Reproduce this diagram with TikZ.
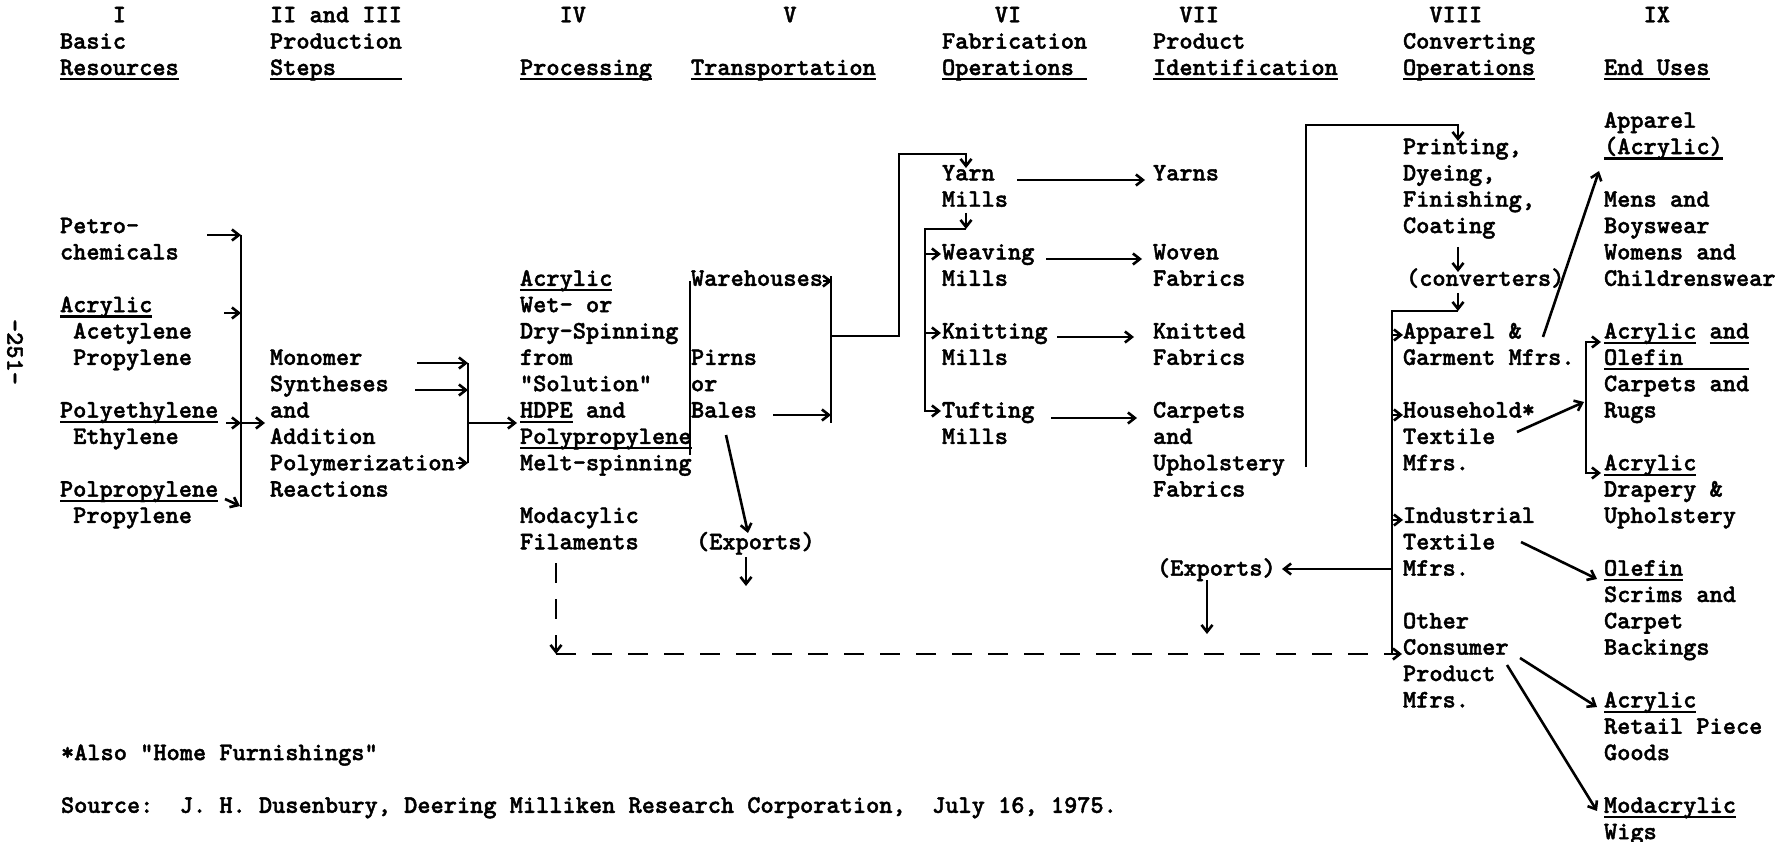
\documentclass[tikz,border=0pt]{standalone}
\usepackage{fontspec}
\usetikzlibrary{arrows.meta}
\newfontfamily\twfont{lmmonolt10-bold.otf}[FakeBold=1.6]
\newlength\cw
\setlength\cw{13.2pt}
\newcommand\ulw[2]{\makebox[0pt][l]{\rule[-5.5pt]{#1\cw}{2.2pt}}#2}
\newcommand\ind[1]{\hspace*{#1\cw}}
\newcommand\st{\rule{0pt}{21pt}}
\newcommand\tw{\twfont\fontsize{25.14}{26.35}\selectfont}
\pgfmathdeclarefunction{bl}{1}{\pgfmathparse{233.1+26.35*#1}}
\newcommand\T[4]{\node[txt] (#1) at (#2,{bl(#3)-21}) {\st #4};}
\frenchspacing
\tikzset{
  txt/.style={anchor=north west, inner sep=0pt, outer sep=0pt, align=left, font=\tw},
  ln/.style={line width=2.6pt},
  arr/.style={line width=2.6pt, -{Straight Barb[length=7pt,width=11pt]}},
  arr2/.style={line width=2.6pt, {Straight Barb[length=7pt,width=11pt]}-{Straight Barb[length=7pt,width=11pt]}},
  dsh/.style={line width=2.6pt, dash pattern=on 20pt off 16pt}
}
\begin{document}
\begin{tikzpicture}[x=1pt,y=-1pt]
\fill[white] (0,0) rectangle (1786,842);
\useasboundingbox (0,0) rectangle (1786,842);

% headers
\T{h1}{60}{-8}{\ind{4}I\\Basic\\\ulw{9}{Resources}}
\T{h2}{270}{-8}{II and III\\Production\\\ulw{10}{Steps}}
\T{h4}{520}{-8}{\ind{3}IV\\\mbox{}\\\ulw{10}{Processing}}
\T{h5}{691}{-8}{\ind{7}V\\\mbox{}\\\ulw{14}{Transportation}}
\T{h6}{942}{-8}{\ind{4}VI\\Fabrication\\\ulw{11}{Operations}}
\T{h7}{1153}{-8}{\ind{2}VII\\Product\\\ulw{14}{Identification}}
\T{h8}{1403}{-8}{\ind{2}VIII\\Converting\\\ulw{10}{Operations}}
\T{h9}{1604}{-8}{\ind{3}IX\\\mbox{}\\\ulw{8}{End Uses}}

% column I
\T{petro}{60}{0}{Petro-\\chemicals}
\T{acr1}{60}{3}{\ulw{7}{Acrylic}\\\ind{1}Acetylene\\\ind{1}Propylene}
\T{pe}{60}{7}{\ulw{12}{Polyethylene}\\\ind{1}Ethylene}
\T{pp}{60}{10}{\ulw{12}{Polpropylene}\\\ind{1}Propylene}

% column II
\T{mono}{270}{5}{Monomer\\Syntheses\\and\\Addition\\Polymerization\\Reactions}

% column IV
\T{acr4}{520}{2}{\ulw{7}{Acrylic}\\Wet- or\\Dry-Spinning\\from\\"Solution"\\\ulw{4}{HDPE} and\\\ulw{13}{Polypropylene}\\Melt-spinning}
\T{moda}{520}{11}{Modacylic\\Filaments}

% column V
\T{ware}{691}{2}{Warehouses}
\T{pirns}{691}{5}{Pirns\\or\\Bales}
\T{expv}{696}{12}{(Exports)}

% column VI
\T{yarnm}{942}{-2}{Yarn\\Mills}
\T{weav}{942}{1}{Weaving\\Mills}
\T{knit}{942}{4}{Knitting\\Mills}
\T{tuft}{942}{7}{Tufting\\Mills}

% column VII
\T{yarns}{1153}{-2}{Yarns}
\T{woven}{1153}{1}{Woven\\Fabrics}
\T{knitted}{1153}{4}{Knitted\\Fabrics}
\T{carp}{1153}{7}{Carpets\\and\\Upholstery\\Fabrics}
\T{expvii}{1157}{13}{(Exports)}

% column VIII
\T{print}{1403}{-3}{Printing,\\Dyeing,\\Finishing,\\Coating}
\T{conv}{1406}{2}{(converters)}
\T{app}{1403}{4}{Apparel \&\\Garment Mfrs.}
\T{hh}{1403}{7}{Household*\\Textile\\Mfrs.}
\T{indu}{1403}{11}{Industrial\\Textile\\Mfrs.}
\T{oth}{1403}{15}{Other\\Consumer\\Product\\Mfrs.}

% column IX
\T{appa}{1604}{-4}{Apparel\\\ulw{9}{(Acrylic)}\\\mbox{}\\Mens and\\Boyswear\\Womens and\\Childrenswear}
\T{acol}{1604}{4}{\ulw{7}{Acrylic} \ulw{3}{and}\\\ulw{11}{Olefin}\\Carpets and\\Rugs}
\T{drap}{1604}{9}{\ulw{7}{Acrylic}\\Drapery \&\\Upholstery}
\T{olef}{1604}{13}{\ulw{6}{Olefin}\\Scrims and\\Carpet\\Backings}
\T{retail}{1604}{18}{\ulw{7}{Acrylic}\\Retail Piece\\Goods}
\T{modw}{1604}{22}{\ulw{10}{Modacrylic}\\Wigs}

% page number and footnotes
\node[inner sep=0pt, rotate=-90, font=\tw] (pg) at (15,352) {-251-};
\T{fn1}{61}{20}{*Also "Home Furnishings"}
\T{fn2}{61}{22}{Source:\ \ J. H. Dusenbury, Deering Milliken Research Corporation,\ \ July 16, 1975.}

% ---- connectors: I -> II
\coordinate (a0) at (207,235); \coordinate (aT) at (241,235); \coordinate (aB) at (241,507);
\coordinate (a1) at (224,313); \coordinate (a1e) at (241,313);
\coordinate (a2) at (226,423); \coordinate (a2e) at (241,423); \coordinate (a2o) at (265,423);
\coordinate (a3) at (225,499); \coordinate (a3e) at (240,506);
\draw[arr] (a0) -- (aT);
\draw[ln] (aT) -- (aB);
\draw[arr] (a1) -- (a1e);
\draw[arr] (a2) -- (a2e);
\draw[arr] (a2e) -- (a2o);
\draw[arr] (a3) -- (a3e);

% ---- II -> IV
\coordinate (b1) at (417,363); \coordinate (b1e) at (468,363);
\coordinate (b2) at (415,390); \coordinate (b2e) at (468,390);
\coordinate (b3) at (456,463); \coordinate (b3e) at (468,463);
\coordinate (bm) at (468,423); \coordinate (bo) at (517,423);
\draw[arr] (b1) -- (b1e);
\draw[arr] (b2) -- (b2e);
\draw[arr] (b3) -- (b3e);
\draw[ln] (b1e) -- (b3e);
\draw[arr] (bm) -- (bo);

% ---- IV -> V
\coordinate (c1) at (690,455); \coordinate (c2) at (690,281);
\draw[ln] (c1) -- (c2);
\coordinate (d0) at (823,281); \coordinate (d1) at (832,281);
\coordinate (dT) at (831,276); \coordinate (dB) at (831,423);
\coordinate (e0) at (773,415); \coordinate (e1) at (831,415);
\draw[arr] (d0) -- (d1);
\draw[ln] (dT) -- (dB);
\draw[arr] (e0) -- (e1);

% ---- V -> VI
\coordinate (f0) at (831,336); \coordinate (f1) at (899,336);
\coordinate (f2) at (899,154); \coordinate (f3) at (966,154); \coordinate (f4) at (966,168);
\draw[arr] (f0) -- (f1) -- (f2) -- (f3) -- (f4);
\coordinate (g0) at (966,213); \coordinate (g1) at (966,229);
\coordinate (g2) at (925,229); \coordinate (g3) at (925,411); \coordinate (g4) at (941,411);
\coordinate (gw) at (925,254); \coordinate (gwe) at (941,254);
\coordinate (gk) at (925,333); \coordinate (gke) at (941,333);
\draw[arr] (g0) -- (g1);
\draw[arr] (g1) -- (g2) -- (g3) -- (g4);
\draw[arr] (gw) -- (gwe);
\draw[arr] (gk) -- (gke);

% ---- VI -> VII
\coordinate (h0) at (1017,180); \coordinate (h0e) at (1145,180);
\coordinate (h1) at (1046,259); \coordinate (h1e) at (1142,259);
\coordinate (h2) at (1057,337); \coordinate (h2e) at (1134,337);
\coordinate (h3) at (1051,418); \coordinate (h3e) at (1137,418);
\draw[arr] (h0) -- (h0e);
\draw[arr] (h1) -- (h1e);
\draw[arr] (h2) -- (h2e);
\draw[arr] (h3) -- (h3e);

% ---- Modacrylic dashed
\coordinate (m0) at (556,563); \coordinate (m1) at (556,654); \coordinate (m2) at (1402,654);
\draw[dsh, -{Straight Barb[length=7pt,width=11pt]}] (m0) -- (m1);
\draw[dsh, -{Straight Barb[length=7pt,width=11pt]}] (m1) -- (m2);

% ---- exports V
\coordinate (x0) at (726,435); \coordinate (x1) at (748,533);
\coordinate (x2) at (746,557); \coordinate (x3) at (746,586);
\draw[arr] (x0) -- (x1);
\draw[arr] (x2) -- (x3);

% ---- VII -> VIII
\coordinate (u0) at (1306,467); \coordinate (u1) at (1306,125);
\coordinate (u2) at (1458,125); \coordinate (u3) at (1458,141);
\draw[arr] (u0) -- (u1) -- (u2) -- (u3);
\coordinate (v0) at (1458,247); \coordinate (v1) at (1458,272);
\draw[arr] (v0) -- (v1);
\coordinate (w0) at (1458,293); \coordinate (w1) at (1458,311);
\coordinate (w2) at (1392,311); \coordinate (w3) at (1392,654);
\draw[arr] (w0) -- (w1);
\draw[ln] (w1) -- (w2) -- (w3);
\coordinate (wa) at (1392,335); \coordinate (wae) at (1403,335);
\coordinate (wh) at (1392,415); \coordinate (whe) at (1403,415);
\coordinate (wi) at (1392,520); \coordinate (wie) at (1403,520);
\draw[arr] (wa) -- (wae);
\draw[arr] (wh) -- (whe);
\draw[arr] (wi) -- (wie);
\coordinate (y0) at (1392,569); \coordinate (y1) at (1282,569);
\draw[arr] (y0) -- (y1);
\coordinate (y2) at (1207,580); \coordinate (y3) at (1207,634);
\draw[arr] (y2) -- (y3);

% ---- VIII -> IX
\coordinate (z0) at (1543,337); \coordinate (z0e) at (1599,171);
\draw[arr] (z0) -- (z0e);
\coordinate (z1) at (1517,432); \coordinate (z1e) at (1584,402);
\draw[arr] (z1) -- (z1e);
\coordinate (fa) at (1601,342); \coordinate (fb) at (1586,342);
\coordinate (fc) at (1586,473); \coordinate (fd) at (1601,473);
\draw[arr2] (fa) -- (fb) -- (fc) -- (fd);
\coordinate (z2) at (1521,542); \coordinate (z2e) at (1597,579);
\draw[arr] (z2) -- (z2e);
\coordinate (z3) at (1520,658); \coordinate (z3e) at (1597,707);
\draw[arr] (z3) -- (z3e);
\coordinate (z4) at (1507,665); \coordinate (z4e) at (1597,811);
\draw[arr] (z4) -- (z4e);
\end{tikzpicture}
\end{document}
